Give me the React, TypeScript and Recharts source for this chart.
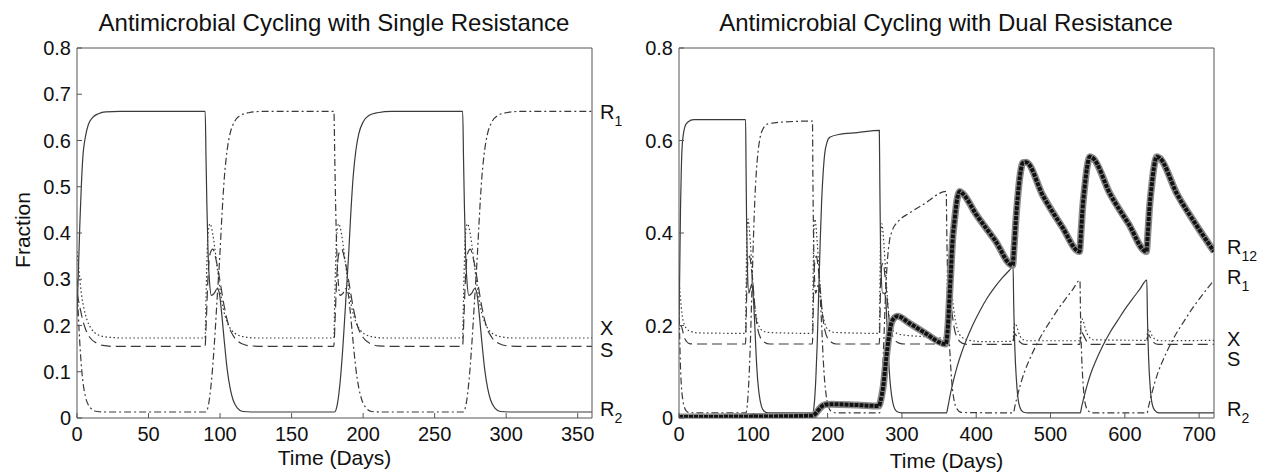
import { LineChart, Line, XAxis, YAxis } from "recharts";

type Pt = [number, number];

const FONT = "'Liberation Sans', Arial, Helvetica, sans-serif";
const INK = "#111";
const AXIS = "#555";
const LINE = "#3a3a3a";

// ---------- left panel: single resistance ----------
const leftTimeTicks = [0, 50, 100, 150, 200, 250, 300, 350];
const leftFracTicks = [0, 0.1, 0.2, 0.3, 0.4, 0.5, 0.6, 0.7, 0.8];
const leftTagPos = [0.662, 0.195, 0.147, 0.02];
const leftTagNames = [["R", "1"], ["X"], ["S"], ["R", "2"]];

const leftSolid: Pt[] = [
  [0, 0.22], [1, 0.32], [2, 0.42], [3, 0.5], [4, 0.56], [6, 0.61], [8, 0.635], [11, 0.65], [15, 0.658], [20, 0.662], [30, 0.663], [89.6, 0.663],
  [90.2, 0.56], [90.8, 0.46], [91.5, 0.37], [92.5, 0.3], [94, 0.265], [96, 0.27], [98, 0.28], [99.5, 0.27], [101, 0.23], [103, 0.165], [105, 0.105], [107, 0.065], [109, 0.04], [112, 0.022], [116, 0.014], [122, 0.013],
  [180, 0.013], [182, 0.03], [184, 0.08], [186, 0.16], [188, 0.26], [190, 0.36], [191, 0.42], [193, 0.52], [195, 0.58], [197, 0.615], [200, 0.64], [204, 0.654], [210, 0.66], [220, 0.663], [269.6, 0.663],
  [270.2, 0.56], [270.8, 0.46], [271.5, 0.37], [272.5, 0.3], [274, 0.265], [276, 0.27], [278, 0.28], [279.5, 0.27], [281, 0.23], [283, 0.165], [285, 0.105], [287, 0.065], [289, 0.04], [292, 0.022], [296, 0.014], [302, 0.013], [360, 0.013],
];

const leftDashDot: Pt[] = [
  [0, 0.3], [1, 0.22], [2, 0.16], [3, 0.115], [4, 0.082], [6, 0.045], [8, 0.028], [10, 0.02], [14, 0.014], [20, 0.013],
  [90, 0.013], [92, 0.03], [94, 0.08], [96, 0.16], [98, 0.26], [100, 0.36], [101, 0.42], [103, 0.52], [105, 0.58], [107, 0.615], [110, 0.64], [114, 0.654], [120, 0.66], [130, 0.663], [179.6, 0.663],
  [180.2, 0.56], [180.8, 0.46], [181.5, 0.37], [182.5, 0.3], [184, 0.265], [186, 0.27], [188, 0.28], [189.5, 0.27], [191, 0.23], [193, 0.165], [195, 0.105], [197, 0.065], [199, 0.04], [202, 0.022], [206, 0.014], [212, 0.013],
  [270, 0.013], [272, 0.03], [274, 0.08], [276, 0.16], [278, 0.26], [280, 0.36], [281, 0.42], [283, 0.52], [285, 0.58], [287, 0.615], [290, 0.64], [294, 0.654], [300, 0.66], [310, 0.663], [360, 0.663],
];

const leftDotted: Pt[] = [
  [0, 0.36], [1, 0.33], [2, 0.3], [3, 0.27], [5, 0.235], [7, 0.212], [10, 0.193], [14, 0.181], [19, 0.176], [25, 0.174], [30, 0.173], [89.5, 0.173],
  [90.2, 0.26], [91, 0.36], [92, 0.41], [93, 0.42], [94, 0.412], [96, 0.375], [98, 0.325], [100, 0.278], [102, 0.24], [105, 0.207], [108, 0.19], [112, 0.18], [118, 0.175], [125, 0.173], [179.5, 0.173],
  [180.2, 0.26], [181, 0.36], [182, 0.41], [183, 0.42], [184, 0.412], [186, 0.375], [188, 0.325], [190, 0.278], [192, 0.24], [195, 0.207], [198, 0.19], [202, 0.18], [208, 0.175], [215, 0.173], [269.5, 0.173],
  [270.2, 0.26], [271, 0.36], [272, 0.41], [273, 0.42], [274, 0.412], [276, 0.375], [278, 0.325], [280, 0.278], [282, 0.24], [285, 0.207], [288, 0.19], [292, 0.18], [298, 0.175], [305, 0.173], [360, 0.173],
];

const leftDashed: Pt[] = [
  [0, 0.27], [2, 0.24], [4, 0.212], [6, 0.192], [9, 0.174], [13, 0.163], [18, 0.157], [25, 0.155], [89.5, 0.155],
  [90.5, 0.22], [91.5, 0.3], [93, 0.355], [95, 0.365], [97, 0.345], [100, 0.295], [103, 0.24], [106, 0.2], [110, 0.174], [115, 0.161], [121, 0.156], [130, 0.155], [179.5, 0.155],
  [180.5, 0.22], [181.5, 0.3], [183, 0.355], [185, 0.365], [187, 0.345], [190, 0.295], [193, 0.24], [196, 0.2], [200, 0.174], [205, 0.161], [211, 0.156], [220, 0.155], [269.5, 0.155],
  [270.5, 0.22], [271.5, 0.3], [273, 0.355], [275, 0.365], [277, 0.345], [280, 0.295], [283, 0.24], [286, 0.2], [290, 0.174], [295, 0.161], [301, 0.156], [310, 0.155], [360, 0.155],
];

// ---------- right panel: dual resistance ----------
const rightTimeTicks = [0, 100, 200, 300, 400, 500, 600, 700];
const rightFracTicks = [0, 0.2, 0.4, 0.6, 0.8];
const rightTagPos = [0.37, 0.305, 0.171, 0.128, 0.02];
const rightTagNames = [["R", "12"], ["R", "1"], ["X"], ["S"], ["R", "2"]];

const rightSolid: Pt[] = [
  [0, 0.2], [1, 0.32], [2, 0.45], [3, 0.53], [4, 0.58], [6, 0.615], [8, 0.63], [12, 0.64], [20, 0.645], [89.6, 0.645],
  [90.2, 0.55], [91, 0.42], [92, 0.33], [94, 0.27], [96, 0.28], [98, 0.29], [100, 0.26], [102, 0.2], [104, 0.13], [106, 0.08], [108, 0.05], [111, 0.025], [115, 0.014], [120, 0.011],
  [180, 0.011], [182, 0.03], [184, 0.08], [186, 0.16], [188, 0.27], [190, 0.38], [192, 0.47], [194, 0.53], [196, 0.57], [199, 0.595], [203, 0.607], [215, 0.613], [240, 0.617], [269.6, 0.622],
  [270.2, 0.52], [271, 0.4], [272, 0.32], [274, 0.27], [276, 0.27], [278, 0.26], [280, 0.2], [282, 0.13], [284, 0.08], [286, 0.05], [289, 0.025], [293, 0.014], [300, 0.011],
  [360, 0.011], [362, 0.025], [365, 0.05], [370, 0.085], [375, 0.115], [380, 0.14], [387, 0.17], [395, 0.2], [405, 0.232], [415, 0.26], [425, 0.283], [435, 0.303], [445, 0.32], [449.6, 0.328],
  [450.4, 0.25], [452, 0.15], [454, 0.085], [456, 0.045], [459, 0.022], [463, 0.013], [470, 0.011],
  [540, 0.011], [542, 0.025], [545, 0.045], [550, 0.075], [555, 0.1], [560, 0.12], [570, 0.155], [580, 0.185], [590, 0.21], [600, 0.235], [610, 0.257], [620, 0.278], [629.6, 0.298],
  [630.4, 0.22], [632, 0.13], [634, 0.07], [636, 0.037], [640, 0.017], [646, 0.011], [720, 0.011],
];

const rightDashDot: Pt[] = [
  [0, 0.25], [1, 0.17], [2, 0.11], [3, 0.075], [5, 0.04], [7, 0.025], [10, 0.015], [15, 0.011],
  [90, 0.011], [92, 0.03], [94, 0.08], [96, 0.16], [98, 0.27], [100, 0.38], [102, 0.47], [104, 0.53], [106, 0.57], [109, 0.605], [113, 0.625], [120, 0.636], [140, 0.64], [179.6, 0.642],
  [180.2, 0.52], [181, 0.4], [182, 0.32], [184, 0.27], [186, 0.28], [188, 0.29], [190, 0.26], [192, 0.2], [194, 0.13], [196, 0.08], [198, 0.05], [201, 0.025], [205, 0.014], [212, 0.011],
  [270, 0.011], [272, 0.04], [274, 0.1], [276, 0.18], [278, 0.27], [280, 0.33], [283, 0.38], [287, 0.405], [295, 0.425], [310, 0.443], [330, 0.463], [359.6, 0.49],
  [360.4, 0.4], [361.5, 0.3], [363, 0.2], [365, 0.13], [367, 0.08], [370, 0.04], [374, 0.02], [380, 0.012],
  [450, 0.011], [452, 0.025], [455, 0.045], [460, 0.075], [465, 0.1], [470, 0.12], [480, 0.155], [490, 0.185], [500, 0.21], [510, 0.235], [520, 0.257], [530, 0.278], [539.6, 0.298],
  [540.4, 0.22], [542, 0.13], [544, 0.07], [546, 0.037], [550, 0.017], [556, 0.011],
  [630, 0.011], [632, 0.025], [635, 0.045], [640, 0.075], [645, 0.1], [650, 0.12], [660, 0.155], [670, 0.185], [680, 0.21], [690, 0.235], [700, 0.257], [710, 0.278], [720, 0.298],
];

const rightDotted: Pt[] = [
  [0, 0.3], [2, 0.26], [4, 0.225], [7, 0.203], [11, 0.192], [16, 0.187], [25, 0.184], [89.5, 0.183],
  [90.2, 0.26], [91, 0.37], [92, 0.42], [93, 0.43], [94, 0.42], [96, 0.38], [98, 0.33], [100, 0.28], [102, 0.24], [105, 0.212], [108, 0.197], [112, 0.189], [120, 0.185], [179.5, 0.183],
  [180.2, 0.26], [181, 0.37], [182, 0.42], [183, 0.43], [184, 0.42], [186, 0.38], [188, 0.33], [190, 0.28], [192, 0.24], [195, 0.212], [198, 0.197], [202, 0.189], [210, 0.185], [269.5, 0.183],
  [270.2, 0.26], [271, 0.37], [272, 0.41], [273, 0.42], [274, 0.41], [276, 0.37], [278, 0.32], [280, 0.27], [282, 0.23], [285, 0.2], [290, 0.186], [300, 0.18], [330, 0.176], [359.5, 0.173],
  [360.2, 0.22], [361, 0.3], [362, 0.34], [363, 0.35], [364, 0.34], [366, 0.3], [368, 0.26], [371, 0.22], [375, 0.19], [380, 0.176], [390, 0.168], [410, 0.165], [449.5, 0.166],
  [450.5, 0.19], [452, 0.205], [454, 0.2], [457, 0.185], [461, 0.172], [468, 0.167], [539.5, 0.167],
  [540.5, 0.195], [542, 0.215], [544, 0.21], [547, 0.192], [551, 0.177], [558, 0.169], [629.5, 0.168],
  [630.5, 0.185], [632, 0.192], [634, 0.187], [637, 0.177], [642, 0.169], [650, 0.167], [720, 0.168],
];

const rightDashed: Pt[] = [
  [0, 0.2], [3, 0.199], [5, 0.188], [7, 0.175], [10, 0.166], [14, 0.161], [20, 0.16], [89.5, 0.16],
  [90.5, 0.22], [91.5, 0.3], [93, 0.34], [95, 0.35], [97, 0.33], [100, 0.28], [103, 0.225], [106, 0.192], [110, 0.172], [115, 0.164], [122, 0.16], [179.5, 0.16],
  [180.5, 0.22], [181.5, 0.3], [183, 0.34], [185, 0.35], [187, 0.33], [190, 0.28], [193, 0.225], [196, 0.192], [200, 0.172], [205, 0.164], [212, 0.16], [269.5, 0.16],
  [270.5, 0.22], [271.5, 0.3], [273, 0.33], [275, 0.335], [277, 0.31], [280, 0.26], [283, 0.21], [286, 0.185], [290, 0.17], [296, 0.162], [305, 0.16], [359.5, 0.16],
  [360.5, 0.2], [361.5, 0.25], [363, 0.27], [365, 0.26], [368, 0.22], [371, 0.19], [375, 0.172], [381, 0.162], [390, 0.159], [449.5, 0.159],
  [450.5, 0.175], [452, 0.182], [455, 0.175], [459, 0.164], [465, 0.159], [539.5, 0.159],
  [540.5, 0.178], [542, 0.185], [545, 0.177], [549, 0.165], [555, 0.159], [629.5, 0.159],
  [630.5, 0.174], [632, 0.18], [635, 0.172], [639, 0.163], [645, 0.159], [720, 0.159],
];

const rightR12: Pt[] = [
  [0, 0.002], [100, 0.003], [180, 0.005], [184, 0.01], [188, 0.018], [192, 0.025], [197, 0.029], [205, 0.03], [240, 0.028], [269, 0.026],
  [271, 0.035], [273, 0.05], [275, 0.07], [277, 0.1], [279, 0.13], [282, 0.17], [285, 0.2], [289, 0.215], [294, 0.22], [310, 0.205], [330, 0.185], [359, 0.16],
  [362, 0.2], [364, 0.26], [366, 0.32], [368, 0.38], [371, 0.43], [374, 0.47], [378, 0.49], [382, 0.485], [400, 0.44], [425, 0.385], [449, 0.33],
  [451, 0.37], [453, 0.42], [456, 0.48], [459, 0.525], [463, 0.552], [467, 0.553], [490, 0.48], [515, 0.415], [539, 0.36],
  [541, 0.4], [543, 0.45], [546, 0.5], [549, 0.54], [553, 0.565], [557, 0.562], [580, 0.485], [605, 0.42], [629, 0.36],
  [631, 0.4], [633, 0.45], [636, 0.5], [639, 0.54], [643, 0.565], [647, 0.562], [670, 0.485], [695, 0.42], [720, 0.36],
];

const rows = (pts: Pt[]) => pts.map(([t, v]) => ({ t, v }));

const tickStyle = { fill: INK, fontSize: 20, fontFamily: FONT };

function makeTag(pos: number[], names: string[][]) {
  return (props: any) => {
    const { x, y, payload } = props;
    const i = pos.indexOf(payload.value);
    if (i < 0) return <g />;
    const [main, sub] = names[i];
    return (
      <text x={x} y={y} dy="0.355em" fontSize={20} fontFamily={FONT} fill={INK} textAnchor="start">
        {main}
        {sub && (
          <tspan dy={7} fontSize={14}>
            {sub}
          </tspan>
        )}
      </text>
    );
  };
}

// Recharts skips axes whose box is 0 wide, so the mirrored ones get 1px
function boxAxes(xMax: number, xTicks: number[], yTicks: number[], tagPos: number[], tagNames: string[][], tagGap: number, labelOffset: number, yWidth: number) {
  return [
    <XAxis
      key="xb"
      dataKey="t"
      type="number"
      domain={[0, xMax]}
      ticks={xTicks}
      interval={0}
      allowDataOverflow
      height={56}
      stroke={AXIS}
      tickSize={-5}
      tickMargin={14}
      tick={tickStyle}
      label={{ value: "Time (Days)", position: "insideBottom", offset: labelOffset, fill: INK, fontSize: 21, fontFamily: FONT }}
    />,
    <XAxis
      key="xt"
      xAxisId="top"
      orientation="top"
      dataKey="t"
      type="number"
      domain={[0, xMax]}
      ticks={xTicks}
      interval={0}
      allowDataOverflow
      height={1}
      stroke={AXIS}
      tickSize={-5}
      tick={false}
    />,
    <YAxis
      key="yl"
      type="number"
      domain={[0, 0.8]}
      ticks={yTicks}
      interval={0}
      allowDataOverflow
      width={yWidth}
      stroke={AXIS}
      tickSize={-5}
      tickMargin={11}
      tick={tickStyle}
    />,
    <YAxis
      key="yr"
      yAxisId="box"
      orientation="right"
      type="number"
      domain={[0, 0.8]}
      ticks={yTicks}
      interval={0}
      allowDataOverflow
      width={1}
      stroke={AXIS}
      tickSize={-5}
      tick={false}
    />,
    <YAxis
      key="ytag"
      yAxisId="tags"
      orientation="right"
      type="number"
      domain={[0, 0.8]}
      ticks={tagPos}
      interval={0}
      allowDataOverflow
      width={1}
      axisLine={false}
      tickLine={false}
      tickSize={0}
      tickMargin={tagGap}
      tick={makeTag(tagPos, tagNames)}
    />,
  ];
}

const lineBase = { type: "monotone" as const, dataKey: "v", dot: false, isAnimationActive: false, stroke: LINE, strokeWidth: 1.2 };

// invisible series bound to the mirrored box axes and the tag axis
function anchors(pts: Pt[]) {
  return [
    <Line key="a1" {...lineBase} data={rows(pts)} xAxisId="top" yAxisId="box" stroke="none" activeDot={false} />,
    <Line key="a2" {...lineBase} data={rows(pts)} yAxisId="tags" stroke="none" activeDot={false} />,
  ];
}

const titleStyle = { position: "absolute" as const, top: 11, transform: "translateX(-50%)", fontSize: 24, lineHeight: "24px", whiteSpace: "nowrap" as const };

export default function App() {
  return (
    <div style={{ position: "absolute", left: 0, top: 0, width: 1265, height: 474, background: "#fff", fontFamily: FONT, color: INK }}>
      <div style={{ position: "absolute", left: 0, top: 0 }}>
        <LineChart width={645} height={474} margin={{ top: 47, right: 51, bottom: 0, left: 20 }}>
          {boxAxes(360, leftTimeTicks, leftFracTicks, leftTagPos, leftTagNames, 7, 9, 57)}
          {anchors(leftDotted)}
          <Line {...lineBase} data={rows(leftDashed)} strokeDasharray="10 5" />
          <Line {...lineBase} data={rows(leftDotted)} strokeDasharray="1.5 2.5" />
          <Line {...lineBase} data={rows(leftDashDot)} strokeDasharray="7 3 2 3" />
          <Line {...lineBase} data={rows(leftSolid)} />
        </LineChart>
      </div>
      <div style={{ position: "absolute", left: 620, top: 0 }}>
        <LineChart width={645} height={474} margin={{ top: 47, right: 49, bottom: 0, left: 0 }}>
          {boxAxes(720, rightTimeTicks, rightFracTicks, rightTagPos, rightTagNames, 12, 6, 59)}
          {anchors(rightDotted)}
          <Line {...lineBase} data={rows(rightDashed)} strokeDasharray="10 5" />
          <Line {...lineBase} data={rows(rightDotted)} strokeDasharray="1.5 2.5" />
          <Line {...lineBase} data={rows(rightDashDot)} strokeDasharray="7 3 2 3" />
          <Line {...lineBase} data={rows(rightSolid)} />
          <Line {...lineBase} data={rows(rightR12)} stroke="#8a8a8a" strokeWidth={7} />
          <Line {...lineBase} data={rows(rightR12)} stroke="#111" strokeWidth={4} strokeDasharray="4 1" />
        </LineChart>
      </div>
      <div style={{ ...titleStyle, left: 334 }}>Antimicrobial Cycling with Single Resistance</div>
      <div style={{ ...titleStyle, left: 946 }}>Antimicrobial Cycling with Dual Resistance</div>
      <div style={{ position: "absolute", left: 22, top: 230, transform: "translate(-50%, -50%) rotate(-90deg)", fontSize: 21, lineHeight: "21px", whiteSpace: "nowrap" }}>
        Fraction
      </div>
    </div>
  );
}
